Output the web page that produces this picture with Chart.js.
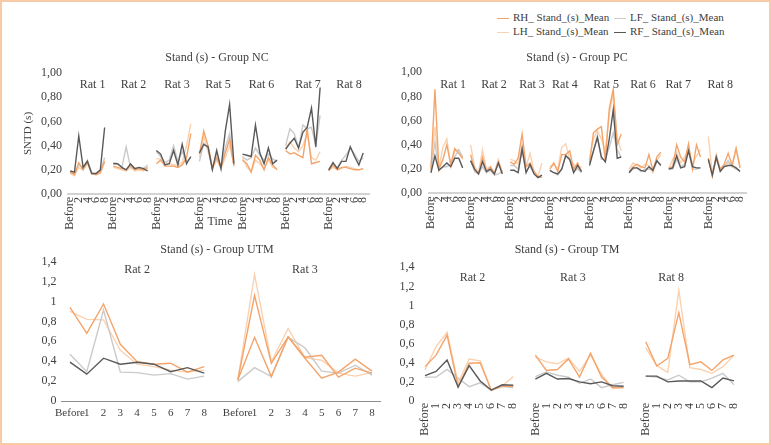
<!DOCTYPE html>
<html>
<head>
<meta charset="utf-8">
<script src="https://cdn.jsdelivr.net/npm/chart.js@4.4.1/dist/chart.umd.min.js"></script>
<style>
  body { margin: 0; background: #fff; overflow: hidden; }
  #frame { position: absolute; left: 0; top: 0; width: 771px; height: 445px; box-sizing: border-box; border: 2px solid #f8cba6; }
  .panel { position: absolute; }
  #legend { position: absolute; left: 497px; top: 10px; font: 11px "Liberation Serif", serif; color: #404040;
            display: grid; grid-template-columns: 117px 117px; line-height: 14px; white-space: nowrap; }
  #legend .key { display: inline-block; width: 12px; border-top: 1.5px solid; vertical-align: middle; margin-right: 4px; }
</style>
</head>
<body>
<div id="frame"></div>
<div id="legend"></div>
<div class="panel" style="left:0;top:45px;width:385px;height:200px"><canvas id="nc"></canvas></div>
<div class="panel" style="left:385px;top:45px;width:380px;height:200px"><canvas id="pc"></canvas></div>
<div class="panel" style="left:0;top:238px;width:385px;height:202px"><canvas id="utm"></canvas></div>
<div class="panel" style="left:385px;top:238px;width:380px;height:202px"><canvas id="tm"></canvas></div>
<script>
// series names, legend order
const seriesNames = ['RH_ Stand_(s)_Mean', 'LF_ Stand_(s)_Mean', 'LH_ Stand_(s)_Mean', 'RF_ Stand_(s)_Mean'];
const timeLabels = ['Before', '1', '2', '3', '4', '5', '6', '7', '8'];

// Group NC
const ncRats = ['Rat 1', 'Rat 2', 'Rat 3', 'Rat 5', 'Rat 6', 'Rat 7', 'Rat 8'];
const ncRH = [
  [0.18, 0.16, 0.26, 0.20, 0.27, 0.17, 0.16, 0.18, 0.27],
  [0.23, 0.22, 0.21, 0.20, 0.24, 0.20, 0.21, 0.20, 0.22],
  [0.25, 0.28, 0.23, 0.23, 0.23, 0.22, 0.24, 0.30, 0.50],
  [0.33, 0.52, 0.40, 0.22, 0.30, 0.22, 0.34, 0.45, 0.23],
  [0.28, 0.25, 0.18, 0.32, 0.28, 0.20, 0.30, 0.24, 0.20],
  [0.36, 0.33, 0.34, 0.32, 0.30, 0.54, 0.25, 0.26, 0.27],
  [0.19, 0.24, 0.20, 0.22, 0.22, 0.21, 0.20, 0.20, 0.21]
];
const ncLF = [
  [0.19, 0.17, 0.24, 0.22, 0.28, 0.17, 0.17, 0.19, 0.30],
  [0.26, 0.25, 0.22, 0.39, 0.22, 0.21, 0.22, 0.21, 0.24],
  [0.35, 0.31, 0.26, 0.28, 0.40, 0.27, 0.35, 0.27, 0.30],
  [0.27, 0.42, 0.38, 0.21, 0.34, 0.22, 0.38, 0.50, 0.24],
  [0.31, 0.28, 0.30, 0.38, 0.32, 0.28, 0.33, 0.29, 0.27],
  [0.40, 0.54, 0.50, 0.38, 0.57, 0.54, 0.55, 0.40, 0.65],
  [0.20, 0.24, 0.22, 0.28, 0.32, 0.38, 0.33, 0.27, 0.30]
];
const ncLH = [
  [0.17, 0.15, 0.22, 0.20, 0.25, 0.17, 0.16, 0.17, 0.26],
  [0.22, 0.21, 0.20, 0.19, 0.22, 0.19, 0.20, 0.19, 0.21],
  [0.29, 0.29, 0.26, 0.25, 0.24, 0.24, 0.26, 0.40, 0.58],
  [0.30, 0.48, 0.35, 0.21, 0.28, 0.21, 0.30, 0.40, 0.24],
  [0.30, 0.22, 0.19, 0.28, 0.25, 0.21, 0.28, 0.22, 0.21],
  [0.38, 0.43, 0.38, 0.35, 0.40, 0.50, 0.30, 0.28, 0.35],
  [0.20, 0.22, 0.20, 0.21, 0.23, 0.22, 0.21, 0.20, 0.21]
];
const ncRF = [
  [0.19, 0.18, 0.48, 0.22, 0.27, 0.17, 0.17, 0.20, 0.55],
  [0.25, 0.25, 0.22, 0.20, 0.25, 0.21, 0.22, 0.21, 0.19],
  [0.36, 0.33, 0.24, 0.25, 0.36, 0.24, 0.41, 0.25, 0.31],
  [0.34, 0.41, 0.39, 0.20, 0.36, 0.21, 0.52, 0.74, 0.25],
  [0.33, 0.32, 0.31, 0.57, 0.34, 0.25, 0.38, 0.25, 0.28],
  [0.37, 0.42, 0.46, 0.38, 0.51, 0.55, 0.71, 0.39, 0.88],
  [0.20, 0.26, 0.21, 0.27, 0.27, 0.39, 0.31, 0.24, 0.34]
];

// Group PC
const pcRats = ['Rat 1', 'Rat 2', 'Rat 3', 'Rat 4', 'Rat 5', 'Rat 6', 'Rat 7', 'Rat 8'];
const pcRH = [
  [0.20, 0.86, 0.20, 0.28, 0.40, 0.24, 0.37, 0.33, 0.29],
  [0.32, 0.20, 0.16, 0.30, 0.18, 0.22, 0.16, 0.26, 0.17],
  [0.26, 0.24, 0.29, 0.49, 0.22, 0.25, 0.18, 0.14, 0.13],
  [0.20, 0.25, 0.18, 0.32, 0.32, 0.35, 0.20, 0.25, 0.18],
  [0.25, 0.50, 0.53, 0.55, 0.27, 0.70, 0.86, 0.40, 0.49],
  [0.18, 0.22, 0.24, 0.22, 0.21, 0.32, 0.19, 0.30, 0.34],
  [0.21, 0.22, 0.40, 0.30, 0.26, 0.41, 0.20, 0.40, 0.30],
  [0.29, 0.14, 0.30, 0.20, 0.24, 0.33, 0.23, 0.37, 0.21]
];
const pcLF = [
  [0.18, 0.42, 0.19, 0.22, 0.22, 0.24, 0.30, 0.36, 0.30],
  [0.27, 0.18, 0.16, 0.22, 0.17, 0.19, 0.15, 0.16, 0.18],
  [0.23, 0.23, 0.20, 0.35, 0.18, 0.22, 0.17, 0.13, 0.15],
  [0.19, 0.17, 0.15, 0.20, 0.32, 0.28, 0.18, 0.20, 0.17],
  [0.26, 0.35, 0.48, 0.28, 0.28, 0.38, 0.50, 0.36, 0.30],
  [0.17, 0.20, 0.21, 0.18, 0.20, 0.20, 0.19, 0.26, 0.24],
  [0.20, 0.20, 0.28, 0.22, 0.24, 0.36, 0.20, 0.20, 0.21],
  [0.28, 0.16, 0.28, 0.20, 0.22, 0.27, 0.22, 0.20, 0.19]
];
const pcLH = [
  [0.22, 0.55, 0.20, 0.38, 0.45, 0.22, 0.35, 0.36, 0.28],
  [0.40, 0.22, 0.17, 0.36, 0.20, 0.22, 0.17, 0.28, 0.17],
  [0.28, 0.27, 0.24, 0.40, 0.22, 0.33, 0.18, 0.14, 0.25],
  [0.22, 0.24, 0.20, 0.38, 0.41, 0.28, 0.24, 0.20, 0.22],
  [0.28, 0.45, 0.52, 0.45, 0.35, 0.66, 0.82, 0.46, 0.35],
  [0.20, 0.25, 0.23, 0.21, 0.24, 0.23, 0.17, 0.27, 0.32],
  [0.20, 0.28, 0.34, 0.25, 0.30, 0.36, 0.24, 0.31, 0.36],
  [0.47, 0.16, 0.32, 0.20, 0.22, 0.25, 0.23, 0.37, 0.22]
];
const pcRF = [
  [0.17, 0.31, 0.19, 0.22, 0.25, 0.22, 0.29, 0.29, 0.21],
  [0.27, 0.20, 0.16, 0.26, 0.18, 0.20, 0.16, 0.25, 0.16],
  [0.19, 0.19, 0.17, 0.37, 0.17, 0.24, 0.16, 0.13, 0.15],
  [0.19, 0.17, 0.16, 0.20, 0.31, 0.28, 0.17, 0.23, 0.18],
  [0.23, 0.35, 0.46, 0.30, 0.26, 0.45, 0.69, 0.29, 0.30],
  [0.17, 0.21, 0.21, 0.19, 0.18, 0.22, 0.19, 0.27, 0.23],
  [0.20, 0.21, 0.31, 0.21, 0.22, 0.35, 0.22, 0.21, 0.21],
  [0.28, 0.15, 0.30, 0.18, 0.22, 0.23, 0.23, 0.21, 0.18]
];

// Group UTM
const utmRats = ['Rat 2', 'Rat 3'];
const utmRH = [
  [0.94, 0.68, 0.975, 0.57, 0.395, 0.37, 0.38, 0.29, 0.345],
  [0.21, 1.06, 0.38, 0.645, 0.44, 0.46, 0.24, 0.33, 0.28]
];
const utmLF = [
  [0.47, 0.295, 0.915, 0.29, 0.285, 0.26, 0.275, 0.22, 0.25],
  [0.195, 0.335, 0.245, 0.64, 0.535, 0.30, 0.28, 0.36, 0.26]
];
const utmLH = [
  [0.90, 0.82, 0.815, 0.51, 0.37, 0.345, 0.31, 0.29, 0.31],
  [0.21, 1.27, 0.395, 0.73, 0.435, 0.41, 0.28, 0.25, 0.285]
];
const utmRF = [
  [0.39, 0.27, 0.43, 0.37, 0.39, 0.37, 0.295, 0.335, 0.28],
  [0.21, 0.64, 0.245, 0.645, 0.43, 0.23, 0.29, 0.42, 0.30]
];

// Group TM
const tmRats = ['Rat 2', 'Rat 3', 'Rat 8'];
const tmRH = [
  [0.36, 0.48, 0.69, 0.15, 0.395, 0.40, 0.115, 0.157, 0.15],
  [0.48, 0.32, 0.33, 0.44, 0.25, 0.50, 0.25, 0.14, 0.14],
  [0.62, 0.366, 0.447, 0.925, 0.38, 0.41, 0.32, 0.43, 0.48]
];
const tmLF = [
  [0.25, 0.25, 0.33, 0.24, 0.15, 0.19, 0.11, 0.15, 0.14],
  [0.255, 0.305, 0.27, 0.25, 0.185, 0.23, 0.14, 0.17, 0.195],
  [0.26, 0.25, 0.22, 0.27, 0.20, 0.20, 0.24, 0.29, 0.17]
];
const tmLH = [
  [0.325, 0.57, 0.72, 0.19, 0.44, 0.42, 0.11, 0.16, 0.255],
  [0.46, 0.41, 0.39, 0.45, 0.31, 0.48, 0.28, 0.13, 0.14],
  [0.56, 0.37, 0.30, 1.16, 0.35, 0.33, 0.29, 0.36, 0.48]
];
const tmRF = [
  [0.265, 0.31, 0.43, 0.145, 0.37, 0.21, 0.115, 0.17, 0.165],
  [0.23, 0.29, 0.23, 0.235, 0.20, 0.18, 0.20, 0.16, 0.155],
  [0.26, 0.26, 0.20, 0.21, 0.21, 0.21, 0.14, 0.24, 0.21]
];

// y tick labels
const yTicks100 = ['0,00', '0,10', '0,20', '0,30', '0,40', '0,50', '0,60', '0,70', '0,80', '0,90', '1,00'];
const yTicks14 = ['0', '0,2', '0,4', '0,6', '0,8', '1', '1,2', '1,4'];

const colors = { RH: '#f4a46a', LF: '#cacaca', LH: '#fad2b0', RF: '#595959' };
const textColor = '#404040';
Chart.defaults.font.family = '"Liberation Serif", serif';
Chart.defaults.font.size = 12;
Chart.defaults.color = textColor;

// legend
const legendEl = document.getElementById('legend');
[['RH', 0], ['LF', 1], ['LH', 2], ['RF', 3]].forEach(([k, i]) => {
  const d = document.createElement('div');
  d.innerHTML = '<span class="key" style="border-color:' + colors[k] + '"></span>' + seriesNames[i];
  legendEl.appendChild(d);
});

// join rats into one category axis, with an empty slot between them
function joinRats(rats, trailingGap) {
  const out = [];
  rats.forEach((r, i) => {
    out.push(...r);
    if (i < rats.length - 1 || trailingGap) out.push(null);
  });
  return out;
}
function joinLabels(n, trailingGap) {
  const blocks = [];
  for (let i = 0; i < n; i++) blocks.push(timeLabels);
  return joinRats(blocks, trailingGap).map(v => v === null ? '' : v);
}

// titles, rat names and extra notes
const panelText = {
  id: 'panelText',
  afterDraw(chart, args, opts) {
    const { ctx, scales: { x, y } } = chart;
    ctx.save();
    ctx.fillStyle = textColor;
    ctx.textAlign = 'center';
    ctx.textBaseline = 'middle';
    ctx.font = '12px "Liberation Serif", serif';
    ctx.fillText(opts.title, opts.titleX, opts.titleY);
    opts.rats.forEach((name, i) => {
      ctx.fillText(name, x.getPixelForValue(opts.ratAt[i]), y.getPixelForValue(opts.ratLevel));
    });
    (opts.notes || []).forEach(n => ctx.fillText(n.text, n.x, n.y));
    ctx.restore();
  }
};

function makeChart(id, cfg) {
  const trailing = cfg.trailingGap;
  const labels = joinLabels(cfg.rats.length, trailing);
  const ds = (key, arr, order, extra) => Object.assign({
    label: seriesNames[['RH', 'LF', 'LH', 'RF'].indexOf(key)],
    data: joinRats(arr, trailing),
    borderColor: colors[key],
    backgroundColor: colors[key],
    borderWidth: 1.4,
    pointRadius: 0,
    fill: false,
    tension: 0,
    spanGaps: false,
    order: order
  }, extra || {});
  return new Chart(document.getElementById(id), {
    type: 'line',
    data: {
      labels: labels,
      datasets: [
        ds('RH', cfg.RH, 1),
        ds('LF', cfg.LF, 2),
        ds('LH', cfg.LH, 3),
        ds('RF', cfg.RF, 0, cfg.rfExtra)
      ]
    },
    plugins: [panelText],
    options: {
      responsive: true,
      maintainAspectRatio: false,
      animation: false,
      layout: { padding: cfg.padding },
      plugins: {
        legend: { display: false },
        tooltip: { enabled: false },
        panelText: cfg.text
      },
      scales: {
        x: {
          offset: true,
          grid: { display: false, drawTicks: false },
          border: cfg.xBorder,
          ticks: {
            autoSkip: false,
            minRotation: cfg.rotate ? 90 : 0,
            maxRotation: cfg.rotate ? 90 : 0,
            padding: cfg.xPad,
            color: textColor,
            font: { size: cfg.xFont || 12 },
            callback: (v, i) => cfg.showLabel(i) ? labels[i] : ''
          },
          afterFit: s => { s.height = cfg.xHeight; }
        },
        y: {
          min: 0,
          max: cfg.yMax,
          grid: { display: false, drawTicks: false },
          border: { display: false },
          title: cfg.yTitle ? { display: true, text: cfg.yTitle, padding: 0, font: { size: 11 }, color: textColor } : { display: false },
          ticks: {
            stepSize: cfg.yStep,
            padding: cfg.yPad,
            color: textColor,
            callback: (v, i) => cfg.yTicks[i]
          },
          afterFit: s => { s.width = cfg.yWidth; }
        }
      }
    }
  });
}

makeChart('nc', {
  rats: ncRats, RH: ncRH, LF: ncLF, LH: ncLH, RF: ncRF, trailingGap: true,
  padding: { left: 22, right: 13, top: 28, bottom: 10 },
  yWidth: 46, yPad: 6, yMax: 1, yStep: 0.1, yTicks: yTicks100, yTitle: 'SNTD (s)',
  xHeight: 41, xPad: 3, rotate: true,
  xBorder: { display: true, color: '#d3d3d3', width: 2 },
  showLabel: i => (i % 10) % 2 === 0 && (i % 10) < 9,
  text: {
    title: 'Stand (s) - Group NC', titleX: 217, titleY: 13,
    rats: ncRats, ratAt: [5.2, 14.7, 24.8, 34.3, 44.4, 55.2, 64.7], ratLevel: 0.9,
    notes: [{ text: 'Time', x: 220, y: 177 }]
  }
});

makeChart('pc', {
  rats: pcRats, RH: pcRH, LF: pcLF, LH: pcLH, RF: pcRF, trailingGap: true,
  padding: { left: 0, right: 19, top: 27.3, bottom: 10 },
  yWidth: 44, yPad: 7, yMax: 1, yStep: 0.1, yTicks: yTicks100, yTitle: null,
  xHeight: 41.7, xPad: 3, rotate: true,
  xBorder: { display: true, color: '#d3d3d3', width: 2 },
  showLabel: i => (i % 10) % 2 === 0 && (i % 10) < 9,
  text: {
    title: 'Stand (s) - Group PC', titleX: 192, titleY: 13,
    rats: pcRats, ratAt: [5.6, 15.9, 25.5, 33.8, 44.2, 53.5, 62.4, 73], ratLevel: 0.9
  }
});

makeChart('utm', {
  rats: utmRats, RH: utmRH, LF: utmLF, LH: utmLH, RF: utmRF, trailingGap: false,
  rfExtra: { segment: { borderColor: c => c.p0DataIndex >= 10 ? colors.RH : undefined } },
  padding: { left: 0, right: 4.6, top: 23.7, bottom: 10 },
  yWidth: 61.6, yPad: 5, yMax: 1.4, yStep: 0.2, yTicks: yTicks14, yTitle: null,
  xHeight: 29, xPad: 6, rotate: false, xFont: 11,
  xBorder: { display: true, color: '#8c8c8c', width: 1 },
  showLabel: i => true,
  text: {
    title: 'Stand (s) - Group UTM', titleX: 217, titleY: 12,
    rats: utmRats, ratAt: [4, 14], ratLevel: 1.32
  }
});

makeChart('tm', {
  rats: tmRats, RH: tmRH, LF: tmLF, LH: tmLH, RF: tmRF, trailingGap: false,
  padding: { left: 0, right: 25.5, top: 29.3, bottom: 0 },
  yWidth: 34.5, yPad: 5, yMax: 1.4, yStep: 0.2, yTicks: yTicks14, yTitle: null,
  xHeight: 39, xPad: 2, rotate: true,
  xBorder: { display: false },
  showLabel: i => true,
  text: {
    title: 'Stand (s) - Group TM', titleX: 182, titleY: 12,
    rats: tmRats, ratAt: [4.3, 13.4, 22.3], ratLevel: 1.29
  }
});
</script>
</body>
</html>
